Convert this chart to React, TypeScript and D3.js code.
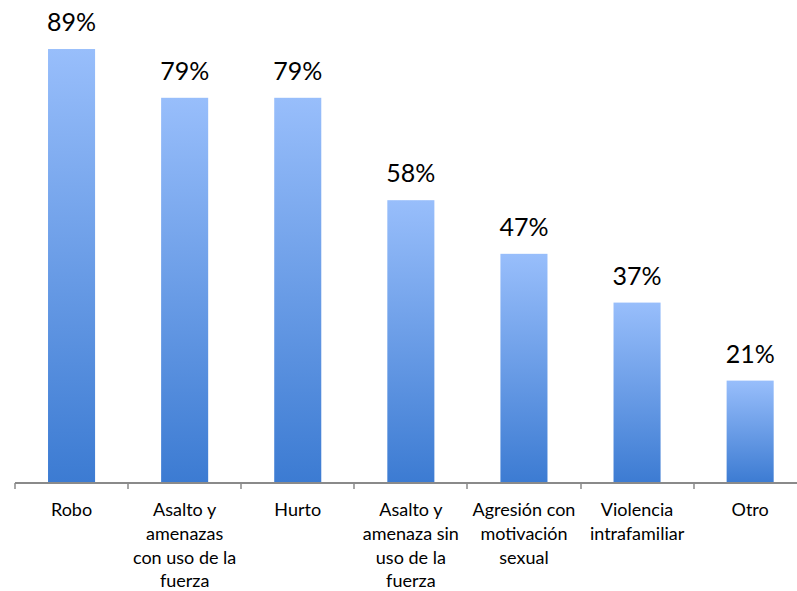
import React from "react";
import * as d3 from "d3";

const categories: string[][] = [
  ["Robo"],
  ["Asalto y", "amenazas", "con uso de la", "fuerza"],
  ["Hurto"],
  ["Asalto y", "amenaza sin", "uso de la", "fuerza"],
  ["Agresión con", "motivación", "sexual"],
  ["Violencia", "intrafamiliar"],
  ["Otro"],
];
const values: number[] = [89, 79, 79, 58, 47, 37, 21];
const valueLabels: string[] = ["89%", "79%", "79%", "58%", "47%", "37%", "21%"];

const W = 797;
const H = 591;
const FONT = "Lato, 'Open Sans', sans-serif";

export default function App() {
  const keys = categories.map((_, i) => String(i));
  const left = 15;
  const step = 113.1;
  const x = d3
    .scaleBand<string>()
    .domain(keys)
    .range([left, left + step * keys.length])
    .paddingInner(0.584)
    .paddingOuter(0.292);
  const y = d3.scaleLinear().domain([0, 100]).range([483, -4.6]);
  const baseY = y(0);
  const bw = x.bandwidth();

  return (
    <div style={{ position: "fixed", left: 0, top: 0, width: W, height: H, background: "#fff" }}>
      <svg width={W} height={H} style={{ display: "block" }}>
        <defs>
          <linearGradient id="barGrad" x1="0" y1="0" x2="0" y2="1">
            <stop offset="0%" stopColor="#98BEFB" />
            <stop offset="100%" stopColor="#3C7BD2" />
          </linearGradient>
        </defs>
        {values.map((v, i) => {
          const x0 = x(keys[i]) as number;
          return (
            <g key={i}>
              <rect x={x0} y={y(v)} width={bw} height={baseY - y(v)} fill="url(#barGrad)" />
              <text
                x={x0 + bw / 2}
                y={y(v) - 18}
                textAnchor="middle"
                fontFamily={FONT}
                fontSize={25}
                fill="#000"
              >
                {valueLabels[i]}
              </text>
            </g>
          );
        })}
        <line x1={left} x2={W} y1={baseY} y2={baseY} stroke="#8a8a8a" strokeWidth={2} />
        {d3.range(keys.length + 1).map((i) => {
          const tx = Math.round(left + i * x.step());
          return (
            <line key={i} x1={tx} x2={tx} y1={baseY} y2={baseY + 6} stroke="#8a8a8a" strokeWidth={1.5} />
          );
        })}
        {categories.map((lines, i) => {
          const cx = (x(keys[i]) as number) + bw / 2;
          return (
            <text key={i} textAnchor="middle" fontFamily={FONT} fontSize={18} fill="#000">
              {lines.map((l, j) => (
                <tspan key={j} x={cx} y={516 + j * 23.8}>
                  {l}
                </tspan>
              ))}
            </text>
          );
        })}
      </svg>
    </div>
  );
}
